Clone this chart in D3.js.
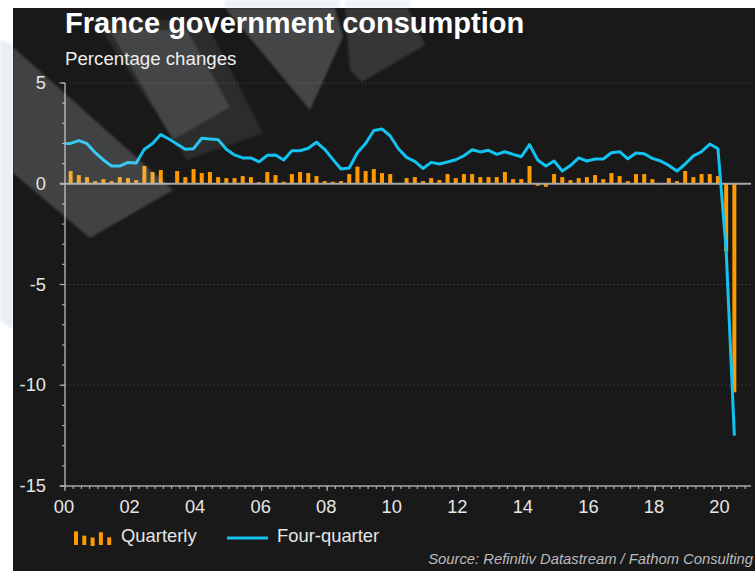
<!DOCTYPE html>
<html><head><meta charset="utf-8">
<script src="https://cdn.jsdelivr.net/npm/d3@7"></script>
<style>body{margin:0;background:#fff}svg{display:block}text{font-family:"Liberation Sans",Arial,sans-serif}</style>
</head><body>
<script>
// ---- data ----
const title = "France government consumption";
const subtitle = "Percentage changes";
const source = "Source: Refinitiv Datastream / Fathom Consulting";
const startYear = 2000; // first quarter 2000Q1
const quarterly = [0.63,0.43,0.33,0.13,0.23,0.13,0.33,0.28,0.18,0.88,0.58,0.68,0.03,0.63,0.33,0.73,0.53,0.58,0.33,0.28,
  0.28,0.38,0.33,0.08,0.58,0.43,0.10,0.48,0.58,0.53,0.38,0.13,0.10,0.13,0.48,0.85,0.63,0.73,0.53,0.48,
  0.02,0.28,0.33,0.13,0.28,0.18,0.48,0.28,0.48,0.48,0.33,0.33,0.33,0.58,0.23,0.23,0.88,-0.10,-0.15,0.48,
  0.33,0.18,0.28,0.33,0.43,0.23,0.53,0.38,0.13,0.48,0.48,0.23,-0.03,0.28,0.13,0.63,0.33,0.48,0.48,0.38,
  -3.35,-10.35];
// four-quarter series starts one quarter earlier (1999Q4)
const fourQuarterStart = 1999.75;
const fourQuarter = [1.99,2.00,2.14,1.99,1.54,1.18,0.88,0.88,1.06,1.03,1.71,2.00,2.44,2.22,1.96,1.71,1.74,2.26,2.22,2.19,
  1.71,1.43,1.28,1.28,1.09,1.41,1.43,1.18,1.64,1.64,1.76,2.06,1.71,1.21,0.73,0.78,1.54,2.00,2.64,2.72,
  2.37,1.74,1.31,1.11,0.76,1.06,0.98,1.08,1.19,1.39,1.69,1.58,1.66,1.46,1.59,1.46,1.34,1.94,1.18,0.88,
  1.13,0.63,0.90,1.28,1.13,1.23,1.23,1.54,1.59,1.24,1.53,1.49,1.26,1.13,0.91,0.63,0.98,1.38,1.59,1.97,
  1.74,-3.30,-12.50];
const xTickYears = [2000,2002,2004,2006,2008,2010,2012,2014,2016,2018,2020];
const xTickLabels = ["00","02","04","06","08","10","12","14","16","18","20"];
const yTicks = [5,0,-5,-10,-15];
const yGrid = [5,-5,-10];
const legendItems = ["Quarterly","Four-quarter"];
const legendBars = [0.8,0.55,0.5,0.75,0.45];

// ---- layout ----
const W = 755, H = 571;
const svg = d3.select("body").append("svg").attr("width", W).attr("height", H);
const plot = {l:65, r:751, t:83, b:486};
const x = d3.scaleLinear().domain([2000, 2020.93]).range([plot.l, plot.r]);
const y = d3.scaleLinear().domain([-15, 5]).range([plot.b, plot.t]);
const barOffset = 0.172; // bar centre offset in years
const barW = 4;

svg.append("rect").attr("width", W).attr("height", H).attr("fill", "#ffffff");
const defs = svg.append("defs");
defs.append("filter").attr("id","soft").append("feGaussianBlur").attr("stdDeviation",1.2);
defs.append("clipPath").attr("id","plotclip").append("rect")
  .attr("x", plot.l).attr("y", 0).attr("width", plot.r - plot.l + 10).attr("height", H);
defs.append("clipPath").attr("id","panelclip").append("rect")
  .attr("x", 13).attr("y", 8).attr("width", W-13).attr("height", H-8);

// light patches in white margin
const margin = svg.append("g").attr("filter","url(#soft)");
margin.append("polygon").attr("points","0,40 13,45 13,330 0,320").attr("fill","#eaeff4");
margin.append("polygon").attr("points","225,0 340,0 340,8 225,8").attr("fill","#eef2f6");
margin.append("polygon").attr("points","345,0 410,0 410,8 345,8").attr("fill","#f1f4f7");
svg.append("rect").attr("x",13).attr("y",8).attr("width",W-13).attr("height",H-8).attr("fill","#191919");

// gridlines
svg.append("g").selectAll("line").data(yGrid).join("line")
  .attr("x1", plot.l).attr("x2", plot.r).attr("y1", d=>y(d)).attr("y2", d=>y(d))
  .attr("stroke","#363636").attr("stroke-width",1).attr("stroke-dasharray","2,2");

// y axis
const yAxis = svg.append("g").attr("transform",`translate(${plot.l},0)`);
yAxis.append("line").attr("y1", plot.t).attr("y2", plot.b).attr("stroke","#a8a8a8").attr("stroke-width",1.5);
yAxis.selectAll(".mn").data(d3.range(-15,6)).join("line")
  .attr("x1",-3).attr("x2",0).attr("y1",d=>y(d)).attr("y2",d=>y(d)).attr("stroke","#a8a8a8").attr("stroke-width",1.2);
yAxis.selectAll(".mj").data(yTicks).join("line")
  .attr("x1",-5.5).attr("x2",0).attr("y1",d=>y(d)).attr("y2",d=>y(d)).attr("stroke","#a8a8a8").attr("stroke-width",1.2);
yAxis.selectAll("text").data(yTicks).join("text")
  .attr("x",-19).attr("y",d=>y(d)+6).attr("text-anchor","end")
  .attr("fill","#e6e6e6").attr("font-size",18.3).text(d=>d);

// x axis
const xAxis = svg.append("g").attr("transform",`translate(0,${plot.b})`);
xAxis.append("line").attr("x1",plot.l-5).attr("x2",plot.r).attr("stroke","#a8a8a8").attr("stroke-width",1.5);
const qTicks = d3.range(0, 84).map(i => 2000 + i/4).filter(t => x(t) <= plot.r);
xAxis.selectAll(".mn").data(qTicks).join("line")
  .attr("x1",d=>x(d)).attr("x2",d=>x(d)).attr("y1",0).attr("y2",3).attr("stroke","#a8a8a8").attr("stroke-width",1.2);
xAxis.selectAll(".mj").data(xTickYears).join("line")
  .attr("x1",d=>x(d)).attr("x2",d=>x(d)).attr("y1",0).attr("y2",5).attr("stroke","#a8a8a8").attr("stroke-width",1.2);
xAxis.selectAll("text").data(xTickYears).join("text")
  .attr("x",d=>x(d)-1).attr("y",27).attr("text-anchor","middle")
  .attr("fill","#e6e6e6").attr("font-size",18.3).text((d,i)=>xTickLabels[i]);

// bars
svg.append("g").selectAll("rect").data(quarterly).join("rect")
  .attr("x",(d,i)=>x(startYear + i/4 + barOffset) - barW/2)
  .attr("width",barW)
  .attr("y",d=>y(Math.max(0,d)))
  .attr("height",d=>Math.abs(y(d)-y(0)))
  .attr("fill","#ff9a00");

// zero line
svg.append("line").attr("x1",plot.l-5).attr("x2",plot.r).attr("y1",y(0)).attr("y2",y(0))
  .attr("stroke","#a8a8a8").attr("stroke-width",2);

// four-quarter line
const line = d3.line().x((d,i)=>x(fourQuarterStart + i/4 + barOffset)).y(d=>y(d));
svg.append("path").datum(fourQuarter).attr("d",line).attr("clip-path","url(#plotclip)")
  .attr("fill","none").attr("stroke","#12c3f2").attr("stroke-width",3).attr("stroke-linejoin","round");

// decorative translucent shapes (over chart)
const shapes = svg.append("g").attr("clip-path","url(#panelclip)").append("g").attr("filter","url(#soft)");
const polys = [
  {p:"13,47 173,190 90,238 13,173", o:0.2},
  {p:"95,20 205,20 263,133 187,160", o:0.09},
  {p:"110,30 187,30 230,107 173,140", o:0.14},
  {p:"225,8 335,8 343,37 310,110", o:0.22},
  {p:"345,8 408,8 425,45 362,82 350,70", o:0.14}
];
shapes.selectAll("polygon").data(polys).join("polygon")
  .attr("points",d=>d.p).attr("fill","#dbe4ee").attr("fill-opacity",d=>d.o);

// titles
svg.append("text").attr("x",65).attr("y",33).attr("fill","#ffffff").attr("font-size",29).attr("font-weight","bold").text(title);
svg.append("text").attr("x",65).attr("y",65).attr("fill","#eeeeee").attr("font-size",18.7).text(subtitle);

// legend
const lg = svg.append("g");
lg.selectAll("rect").data(legendBars).join("rect")
  .attr("x",(d,i)=>74 + i*8.3).attr("width",4)
  .attr("y",(d,i)=>545 - d*17 + (i===2?1:0)).attr("height",d=>d*17)
  .attr("fill","#ff9a00");
lg.append("text").attr("x",121).attr("y",542).attr("fill","#e6e6e6").attr("font-size",18.4).text(legendItems[0]);
lg.append("line").attr("x1",227).attr("x2",268).attr("y1",538).attr("y2",538).attr("stroke","#12c3f2").attr("stroke-width",3);
lg.append("text").attr("x",277).attr("y",542).attr("fill","#e6e6e6").attr("font-size",18.4).text(legendItems[1]);

// source
svg.append("text").attr("x",753).attr("y",564).attr("text-anchor","end").attr("fill","#bbbbbb")
  .attr("font-size",14.8).attr("font-style","italic").text(source);
</script>
</body></html>
